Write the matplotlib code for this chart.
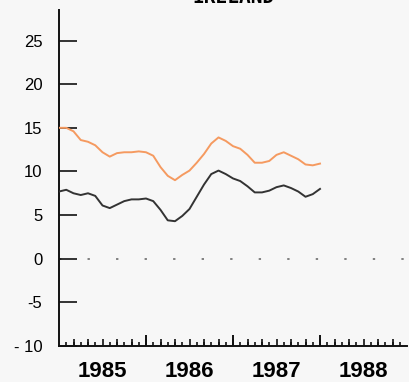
import numpy as np
import matplotlib
matplotlib.use('Agg')
import matplotlib.pyplot as plt

# Monthly series, Jan 1985 .. Jan 1988
orange_vals = [15.0, 15.0, 14.6, 13.6, 13.4, 13.0, 12.2, 11.7, 12.1, 12.2, 12.2, 12.3,
               12.2, 11.8, 10.5, 9.5, 9.0, 9.6, 10.1, 11.0, 12.0, 13.2, 13.9, 13.5,
               12.9, 12.6, 11.9, 11.0, 11.0, 11.2, 11.9, 12.2, 11.8, 11.4, 10.8, 10.7,
               10.9]
black_vals = [7.7, 7.9, 7.5, 7.3, 7.5, 7.2, 6.1, 5.8, 6.2, 6.6, 6.8, 6.8,
              6.9, 6.6, 5.6, 4.4, 4.3, 4.9, 5.7, 7.1, 8.5, 9.7, 10.1, 9.7,
              9.2, 8.9, 8.3, 7.6, 7.6, 7.8, 8.2, 8.4, 8.1, 7.7, 7.1, 7.4,
              8.0]
start_year = 1985
year_labels = ['1985', '1986', '1987', '1988']
y_ticks = [-10, -5, 0, 5, 10, 15, 20, 25]
y_labels = ['- 10', '-5', '0', '5', '10', '15', '20', '25']
title = 'IRELAND'

t = start_year + np.arange(len(orange_vals)) / 12.0

W, H = 410, 382
fig = plt.figure(figsize=(W / 100, H / 100), dpi=100)
fig.patch.set_facecolor('#f7f7f7')
ax = fig.add_axes([59 / W, 1 - 346 / H, 348 / W, 336 / H])
ax.set_facecolor('#f7f7f7')

ax.plot(t, orange_vals, color='#f59a60', lw=1.4, zorder=3)
ax.plot(t, black_vals, color='#333333', lw=1.4, zorder=3)

# dotted zero line
ax.axhline(0, color='#777777', lw=1.3, linestyle=(0, (1.3, 14.5)), zorder=1)

ax.set_xlim(1985, 1989)
ax.set_ylim(-10, 28.5)

for s in ['top', 'right']:
    ax.spines[s].set_visible(False)
for s in ['left', 'bottom']:
    ax.spines[s].set_linewidth(1.4)
    ax.spines[s].set_color('#111111')

# y ticks: long inward marks
ax.set_yticks(y_ticks, labels=y_labels)
ax.tick_params(axis='y', direction='in', length=13, width=1.2, color='#111111',
               pad=12, labelsize=12)

# x: labels in the middle of each year, ticks drawn separately
years = np.arange(1985, 1989)
ax.set_xticks(years + 0.5, labels=year_labels)
ax.tick_params(axis='x', which='major', length=0, pad=11, labelsize=16)
months = 1985 + np.arange(1, 48) / 12.0
ax.set_xticks(months, minor=True)
ax.tick_params(axis='x', which='minor', direction='in', length=3, width=1.2,
               color='#111111')
trans = ax.get_xaxis_transform()
bimonth = 1985 + np.arange(2, 48, 2) / 12.0
ax.vlines(bimonth, 0, 7 / 336, transform=trans, color='#111111', lw=1.2,
          clip_on=False)
ax.vlines(years[1:], 0, 11 / 336, transform=trans, color='#111111', lw=1.4,
          clip_on=False)

for lab in ax.get_xticklabels():
    lab.set_fontfamily('Liberation Sans')
    lab.set_fontweight('bold')
for lab in ax.get_yticklabels():
    lab.set_fontfamily('Liberation Sans')

fig.text(234 / W, 1 - 7 / H, title, ha='center', va='bottom', fontsize=14,
         fontweight='bold', family='DejaVu Sans Mono')

fig.savefig('out.png', dpi=100, facecolor=fig.get_facecolor())
